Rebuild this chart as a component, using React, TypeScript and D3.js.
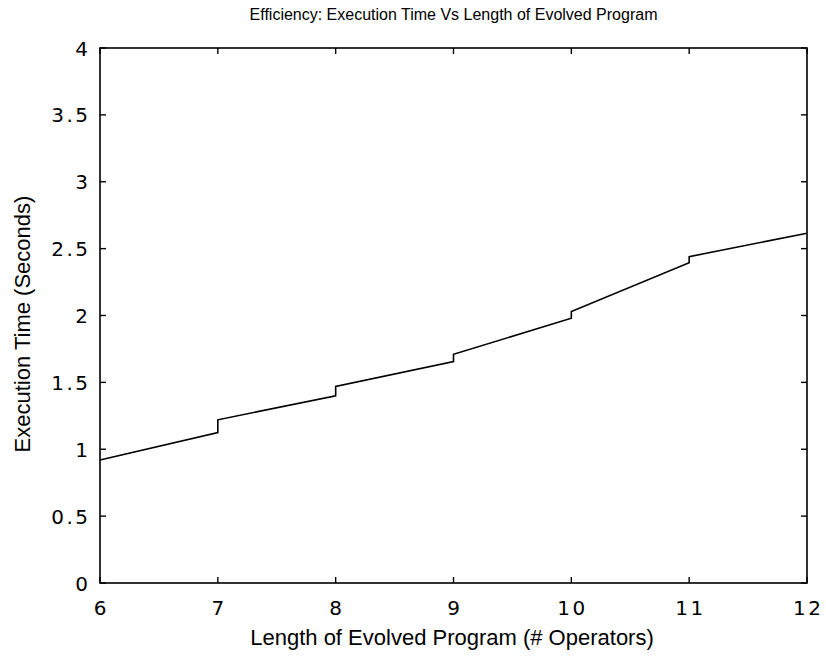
import React from "react";
import * as d3 from "d3";

const programLengths = [6, 7, 8, 9, 10, 11, 12];
const timeBeforeStep = [0.92, 1.125, 1.4, 1.655, 1.98, 2.395, 2.615];
const timeAfterStep = [0.92, 1.22, 1.47, 1.71, 2.03, 2.44, 2.615];
const xTicks = [6, 7, 8, 9, 10, 11, 12];
const yTicks = [0, 0.5, 1, 1.5, 2, 2.5, 3, 3.5, 4];

const W = 826, H = 658;
const M = { left: 100, right: 807, top: 48, bottom: 583 };

export default function App() {
  const x = d3.scaleLinear().domain([6, 12]).range([M.left, M.right]);
  const y = d3.scaleLinear().domain([0, 4]).range([M.bottom, M.top]);
  const pts: [number, number][] = [];
  programLengths.forEach((l, i) => {
    pts.push([l, timeBeforeStep[i]]);
    if (timeAfterStep[i] !== timeBeforeStep[i]) pts.push([l, timeAfterStep[i]]);
  });
  const line = d3.line<[number, number]>().x(d => x(d[0])).y(d => y(d[1]));
  const ls = 2.5;
  const tickFont = { fontFamily: "DejaVu Sans", fontSize: 20, letterSpacing: ls } as any;
  const tl = 6;
  return (
    <svg width={W} height={H} style={{ position: "absolute", left: 0, top: 0, background: "#fff" }}>
      <rect x={0} y={0} width={W} height={H} fill="#fff" />
      <text x={(M.left + M.right) / 2} y={20} textAnchor="middle" style={{ fontFamily: "Liberation Sans, Arial", fontSize: 16 }}>
        Efficiency: Execution Time Vs Length of Evolved Program
      </text>
      <rect x={M.left} y={M.top} width={M.right - M.left} height={M.bottom - M.top} fill="none" stroke="#000" strokeWidth={1.6} />
      {xTicks.map(t => (
        <g key={"x" + t}>
          <line x1={x(t)} x2={x(t)} y1={M.bottom} y2={M.bottom - tl} stroke="#000" strokeWidth={1.4} />
          <line x1={x(t)} x2={x(t)} y1={M.top} y2={M.top + tl} stroke="#000" strokeWidth={1.4} />
          <text x={x(t) + ls / 2} y={M.bottom + 32} textAnchor="middle" style={tickFont}>{t}</text>
        </g>
      ))}
      {yTicks.map(t => (
        <g key={"y" + t}>
          <line x1={M.left} x2={M.left + tl} y1={y(t)} y2={y(t)} stroke="#000" strokeWidth={1.4} />
          <line x1={M.right} x2={M.right - tl} y1={y(t)} y2={y(t)} stroke="#000" strokeWidth={1.4} />
          <text x={88 + ls} y={y(t) + 7.5} textAnchor="end" style={tickFont}>{t}</text>
        </g>
      ))}
      <path d={line(pts) || ""} fill="none" stroke="#000" strokeWidth={1.6} />
      <text x={452} y={645} textAnchor="middle" style={{ fontFamily: "Liberation Sans, Arial", fontSize: 22 }}>
        Length of Evolved Program (# Operators)
      </text>
      <text transform={`translate(30, 324) rotate(-90)`} textAnchor="middle" style={{ fontFamily: "Liberation Sans, Arial", fontSize: 22 }}>
        Execution Time (Seconds)
      </text>
    </svg>
  );
}
